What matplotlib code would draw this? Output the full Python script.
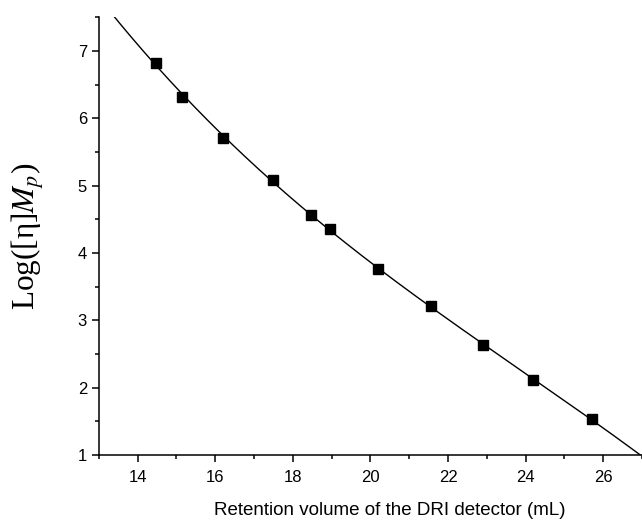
import numpy as np
import matplotlib.pyplot as plt
from matplotlib.ticker import MultipleLocator

# Calibration points
retention_ml = [14.48, 15.15, 16.20, 17.48, 18.48, 18.97, 20.20, 21.57, 22.89, 24.20, 25.71]
log_eta_mp = [6.82, 6.32, 5.70, 5.08, 4.57, 4.35, 3.76, 3.21, 2.63, 2.12, 1.53]

# Polynomial calibration fit (as in the original)
coef = np.polyfit(retention_ml, log_eta_mp, 3)
fit_x = np.linspace(13, 27, 300)
fit_y = np.polyval(coef, fit_x)

plt.rcParams['mathtext.fontset'] = 'stix'

fig = plt.figure(figsize=(6.42, 5.2), dpi=100)
ax = fig.add_axes([0.154, 0.125, 0.846, 0.842])

ax.plot(fit_x, fit_y, color='black', linewidth=1)
ax.plot(retention_ml, log_eta_mp, 's', color='black', markersize=6.5)

ax.set_xlim(13, 27)
ax.set_ylim(1, 7.5)
ax.xaxis.set_major_locator(MultipleLocator(2))
ax.xaxis.set_minor_locator(MultipleLocator(1))
ax.yaxis.set_major_locator(MultipleLocator(1))
ax.yaxis.set_minor_locator(MultipleLocator(0.5))

for side in ['top', 'right']:
    ax.spines[side].set_visible(False)
for side in ['left', 'bottom']:
    ax.spines[side].set_linewidth(1.1)

ax.tick_params(which='major', direction='out', length=5, width=1.1,
               labelsize=12, labelfontfamily='Liberation Sans')
ax.tick_params(axis='x', which='major', pad=6)
ax.tick_params(which='minor', direction='out', length=3, width=1.1)

ax.set_xlabel('Retention volume of the DRI detector (mL)',
              fontsize=13.5, family='Liberation Sans')
ax.xaxis.set_label_coords(0.536, -0.108)
ax.set_ylabel('Log([η]$M_p$)', fontsize=22.5, family='Liberation Serif')
ax.yaxis.set_label_coords(-0.095, 0.5)

plt.savefig('out.png', dpi=100)
